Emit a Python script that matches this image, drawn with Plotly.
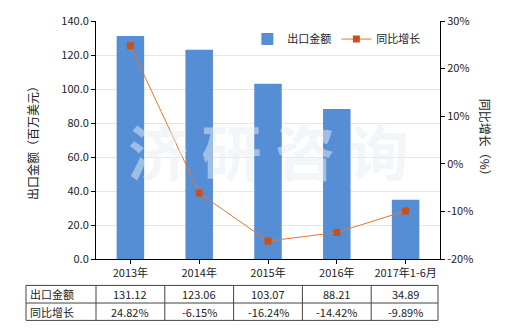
import plotly.graph_objects as go

categories = ["2013年", "2014年", "2015年", "2016年", "2017年1-6月"]
export_values = [131.12, 123.06, 103.07, 88.21, 34.89]
yoy_growth = [24.82, -6.15, -16.24, -14.42, -9.89]
export_labels = ["131.12", "123.06", "103.07", "88.21", "34.89"]
growth_labels = ["24.82%", "-6.15%", "-16.24%", "-14.42%", "-9.89%"]
left_ticks = [0, 20, 40, 60, 80, 100, 120, 140]
left_tick_text = ["0.0", "20.0", "40.0", "60.0", "80.0", "100.0", "120.0", "140.0"]
right_ticks = [-20, -10, 0, 10, 20, 30]
right_tick_text = ["-20%", "-10%", "0%", "10%", "20%", "30%"]

FONT = "Noto Sans CJK SC"
fig = go.Figure()
fig.add_trace(go.Bar(x=categories, y=export_values, name="出口金额",
                     marker=dict(color="#558ED5", line=dict(width=0)), width=0.4))
fig.add_trace(go.Scatter(x=categories, y=yoy_growth, name="同比增长", yaxis="y2",
                         mode="lines+markers",
                         line=dict(color="#E8762C", width=1),
                         marker=dict(symbol="square", size=7, color="#C8501A")))

fig.update_layout(
    width=520, height=330,
    margin=dict(l=96, r=80, t=19, b=71),
    plot_bgcolor="white", paper_bgcolor="white",
    font=dict(family=FONT, size=11, color="#222"),
    showlegend=True,
    legend=dict(orientation="h", x=0.44, y=0.985, xanchor="left", yanchor="top",
                bgcolor="rgba(0,0,0,0)", font=dict(size=11), itemwidth=30),
    xaxis=dict(showline=True, linecolor="black", linewidth=1, ticks="outside",
               ticklen=4, tickcolor="black", showgrid=False, tickfont=dict(size=11)),
    yaxis=dict(range=[0, 140], tickvals=left_ticks, ticktext=left_tick_text,
               showline=True, linecolor="black", linewidth=1, ticks="outside",
               ticklen=4, tickcolor="black", gridcolor="#E6E6E6",
               title=dict(text="出口金额（百万美元）", font=dict(size=12), standoff=20),
               zeroline=False),
    yaxis2=dict(range=[-20, 30], tickvals=right_ticks, ticktext=right_tick_text,
                overlaying="y", side="right", showline=True, linecolor="black",
                linewidth=1, ticks="outside", ticklen=4, tickcolor="black",
                showgrid=False, zeroline=False),
)

# right axis title (rotated reading top-to-bottom)
fig.add_annotation(text="同比增长（%）", xref="paper", yref="paper", x=1.165, y=0.5,
                   textangle=90, showarrow=False, font=dict(size=12))

# watermark
fig.add_annotation(text="<b>济 研 咨 询</b>", xref="paper", yref="paper", x=0.5, y=0.46,
                   showarrow=False, font=dict(size=60, color="rgba(232,238,244,0.5)",
                                                family=FONT))

# data table
x_left = (26 - 96) / 344
x_right = (438 - 96) / 344
rows_y = [-0.111, -0.185, -0.258]
line = dict(color="#444", width=1)
for y in rows_y:
    fig.add_shape(type="line", xref="paper", yref="paper", x0=x_left, x1=x_right,
                  y0=y, y1=y, line=line)
n = len(categories)
for i in range(n + 1):
    xp = i / n if i < n else x_right
    fig.add_shape(type="line", xref="paper", yref="paper", x0=xp, x1=xp,
                  y0=rows_y[0], y1=rows_y[2], line=line)
fig.add_shape(type="line", xref="paper", yref="paper", x0=x_left, x1=x_left,
              y0=rows_y[0], y1=rows_y[2], line=line)

row_names = ["出口金额", "同比增长"]
row_vals = [export_labels, growth_labels]
for r in range(2):
    yc = (rows_y[r] + rows_y[r + 1]) / 2
    fig.add_annotation(text=row_names[r], xref="paper", yref="paper",
                       x=x_left + 0.005, y=yc, xanchor="left", yanchor="middle",
                       showarrow=False, font=dict(size=11))
    for c, cat in enumerate(categories):
        fig.add_annotation(text=row_vals[r][c], xref="x", yref="paper", x=cat, y=yc,
                           xanchor="center", yanchor="middle", showarrow=False,
                           font=dict(size=11))

fig.write_html("out.html")
